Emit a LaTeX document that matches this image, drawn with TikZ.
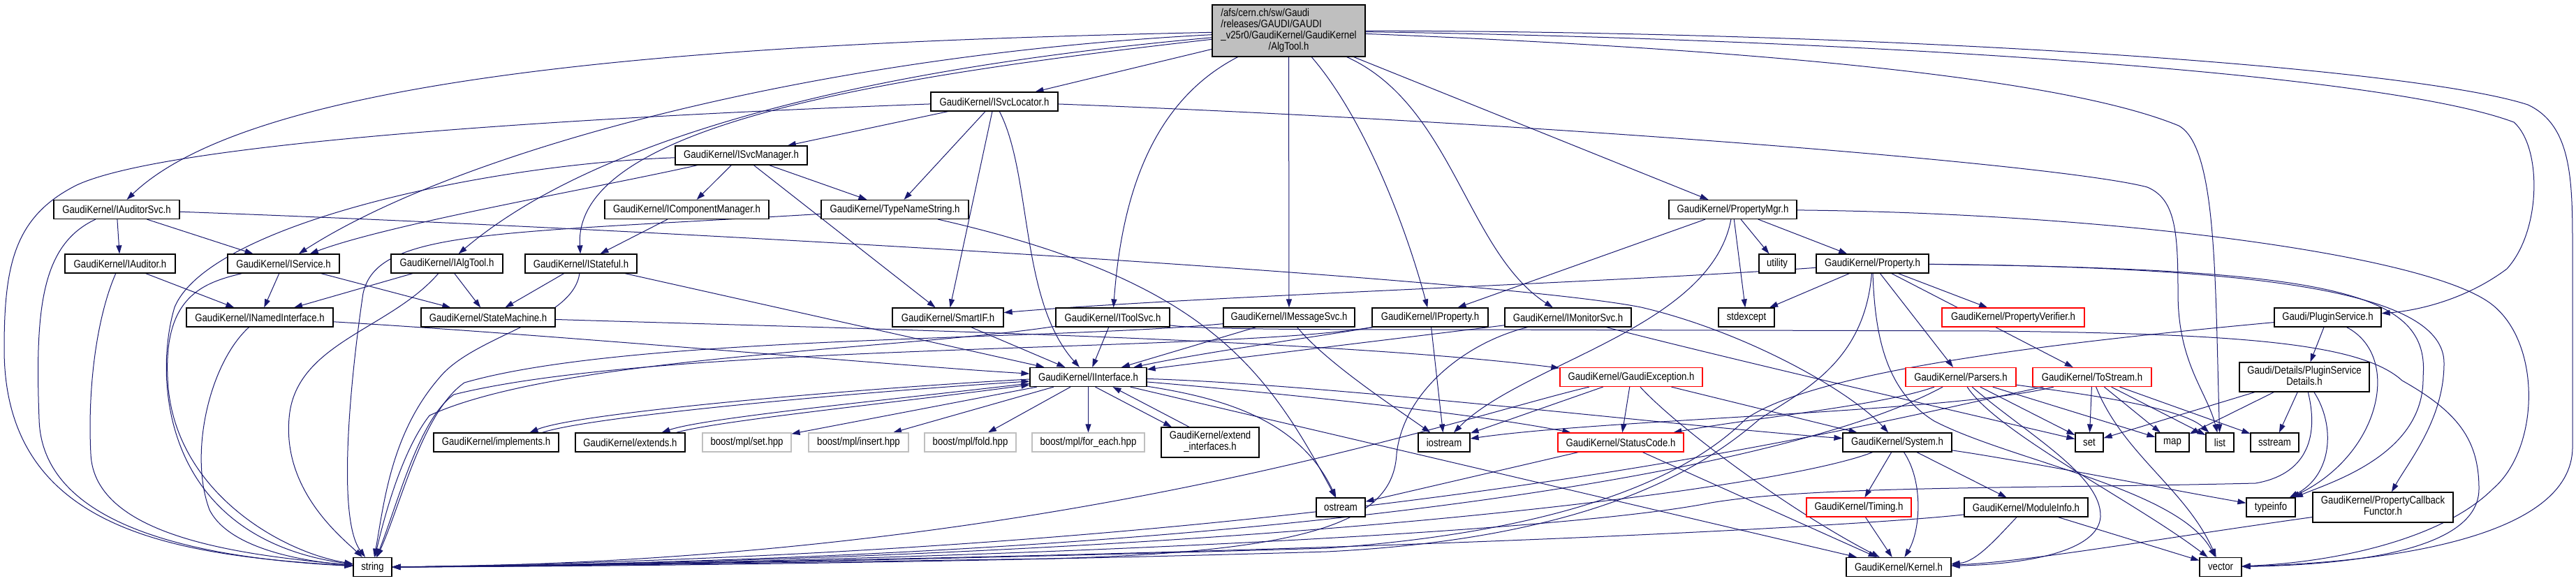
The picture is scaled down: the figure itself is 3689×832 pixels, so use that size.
\documentclass[tikz,border=0pt]{standalone}
\usepackage{fontspec}
\setmainfont{Liberation Sans}[FakeStretch=0.85]
\usetikzlibrary{arrows.meta}
\definecolor{edgeblue}{RGB}{25,25,112}
\definecolor{topgray}{RGB}{191,191,191}
\definecolor{boxgray}{RGB}{191,191,191}
\newcommand{\dxfont}{\fontsize{15.5}{16}\selectfont}
\pgfdeclarelayer{bg}
\pgfdeclarelayer{edges}
\pgfsetlayers{bg,edges,main}
\tikzset{
  dxbox/.style={draw=black, line width=1.2pt, fill=white, inner sep=0pt, minimum height=27pt, font=\dxfont, text=black},
  redbox/.style={dxbox, draw=red},
  greybox/.style={dxbox, draw=boxgray},
  edg/.style={draw=edgeblue, line width=1pt, -{Triangle[length=12pt,width=8pt]}},
}
\begin{document}
\begin{tikzpicture}[x=1pt,y=-1pt]
\begin{pgfonlayer}{bg}
\fill[white] (0,0) rectangle (3689,832);
\end{pgfonlayer}
\useasboundingbox (0,0) rectangle (3689,832);

% ---------------- nodes ----------------
\node[dxbox, fill=topgray, minimum width=219pt, minimum height=74pt] (top) at (1845.5,44) {\begin{tabular}{@{}l@{}}/afs/cern.ch/sw/Gaudi\\/releases/GAUDI/GAUDI\\\_v25r0/GaudiKernel/GaudiKernel\\\multicolumn{1}{@{}c@{}}{/AlgTool.h}\end{tabular}};
\node[dxbox, minimum width=182pt] (svcloc) at (1424,145.5) {GaudiKernel/ISvcLocator.h};
\node[dxbox, minimum width=189pt] (svcmgr) at (1061.5,222.5) {GaudiKernel/ISvcManager.h};
\node[dxbox, minimum width=180pt] (audsvc) at (167,300) {GaudiKernel/IAuditorSvc.h};
\node[dxbox, minimum width=235pt] (compmgr) at (983.5,300) {GaudiKernel/IComponentManager.h};
\node[dxbox, minimum width=211pt] (typename) at (1281.5,300) {GaudiKernel/TypeNameString.h};
\node[dxbox, minimum width=183pt] (propmgr) at (2481.5,300) {GaudiKernel/PropertyMgr.h};
\node[dxbox, minimum width=158pt] (auditor) at (172,377.5) {GaudiKernel/IAuditor.h};
\node[dxbox, minimum width=160pt] (iservice) at (406,377.5) {GaudiKernel/IService.h};
\node[dxbox, minimum width=160pt] (ialgtool) at (640,377.5) {GaudiKernel/IAlgTool.h};
\node[dxbox, minimum width=160pt] (istateful) at (832,377.5) {GaudiKernel/IStateful.h};
\node[dxbox, minimum width=52pt] (utility) at (2545,377.5) {utility};
\node[dxbox, minimum width=161pt] (property) at (2681.5,377.5) {GaudiKernel/Property.h};
\node[dxbox, minimum width=210pt] (named) at (372,454.5) {GaudiKernel/INamedInterface.h};
\node[dxbox, minimum width=192pt] (statemach) at (699,454.5) {GaudiKernel/StateMachine.h};
\node[dxbox, minimum width=159pt] (smartif) at (1357.5,454.5) {GaudiKernel/SmartIF.h};
\node[dxbox, minimum width=163pt] (toolsvc) at (1593.5,454.5) {GaudiKernel/IToolSvc.h};
\node[dxbox, minimum width=188pt] (msgsvc) at (1846,454.5) {GaudiKernel/IMessageSvc.h};
\node[dxbox, minimum width=166pt] (iprop) at (2048,454.5) {GaudiKernel/IProperty.h};
\node[dxbox, minimum width=181pt] (monsvc) at (2245.5,454.5) {GaudiKernel/IMonitorSvc.h};
\node[dxbox, minimum width=80pt] (stdexcept) at (2501,454.5) {stdexcept};
\node[redbox, minimum width=204pt] (propverif) at (2883,454.5) {GaudiKernel/PropertyVerifier.h};
\node[dxbox, minimum width=153pt] (plugin) at (3333.5,454.5) {Gaudi/PluginService.h};
\node[dxbox, minimum width=167pt] (iinterface) at (1558.5,540) {GaudiKernel/IInterface.h};
\node[redbox, minimum width=204pt] (gexc) at (2336,540) {GaudiKernel/GaudiException.h};
\node[redbox, minimum width=158pt] (parsers) at (2808,540) {GaudiKernel/Parsers.h};
\node[redbox, minimum width=170pt] (tostream) at (2996,540) {GaudiKernel/ToStream.h};
\node[dxbox, minimum width=186pt, minimum height=42pt] (pdetails) at (3300,540) {\begin{tabular}{@{}l@{}}Gaudi/Details/PluginService\\\multicolumn{1}{@{}c@{}}{Details.h}\end{tabular}};
\node[dxbox, minimum width=179pt] (implements) at (710.5,633.5) {GaudiKernel/implements.h};
\node[dxbox, minimum width=157pt] (extends) at (902.5,633.5) {GaudiKernel/extends.h};
\node[greybox, minimum width=127pt] (bset) at (1069.5,633.5) {boost/mpl/set.hpp};
\node[greybox, minimum width=143pt] (binsert) at (1229.5,633.5) {boost/mpl/insert.hpp};
\node[greybox, minimum width=131pt] (bfold) at (1389.5,633.5) {boost/mpl/fold.hpp};
\node[greybox, minimum width=161pt] (bforeach) at (1558.5,633.5) {boost/mpl/for\_each.hpp};
\node[dxbox, minimum width=140pt, minimum height=43pt] (extintf) at (1733,633.5) {\begin{tabular}{@{}l@{}}GaudiKernel/extend\\\multicolumn{1}{@{}c@{}}{\_interfaces.h}\end{tabular}};
\node[dxbox, minimum width=74pt] (iostream) at (2068,633.5) {iostream};
\node[redbox, minimum width=180pt] (statuscode) at (2321,633.5) {GaudiKernel/StatusCode.h};
\node[dxbox, minimum width=156pt] (system) at (2717,633.5) {GaudiKernel/System.h};
\node[dxbox, minimum width=40pt] (set) at (2992,633.5) {set};
\node[dxbox, minimum width=48pt] (map) at (3111,633.5) {map};
\node[dxbox, minimum width=40pt] (list) at (3179,633.5) {list};
\node[dxbox, minimum width=69pt] (sstream) at (3257.5,633.5) {sstream};
\node[dxbox, minimum width=70pt] (ostream) at (1920,726.5) {ostream};
\node[redbox, minimum width=150pt] (timing) at (2662,726.5) {GaudiKernel/Timing.h};
\node[dxbox, minimum width=177pt] (moduleinfo) at (2901.5,726.5) {GaudiKernel/ModuleInfo.h};
\node[dxbox, minimum width=70pt] (typeinfo) at (3252,726.5) {typeinfo};
\node[dxbox, minimum width=201pt, minimum height=43pt] (pcbf) at (3412.5,726.5) {\begin{tabular}{@{}l@{}}GaudiKernel/PropertyCallback\\\multicolumn{1}{@{}c@{}}{Functor.h}\end{tabular}};
\node[dxbox, minimum width=55pt] (string) at (533.5,812) {string};
\node[dxbox, minimum width=150pt] (kernel) at (2719,812) {GaudiKernel/Kernel.h};
\node[dxbox, minimum width=60pt] (vector) at (3180,812) {vector};

% ---------------- edges ----------------
\begin{pgfonlayer}{edges}
% AlgTool.h
\draw[edg] (top) .. controls (1100,60) and (380,95) .. (audsvc);
\draw[edg] (top) -- (svcloc);
\draw[edg] (top) .. controls (1150,80) and (650,220) .. (iservice);
\draw[edg] (top) .. controls (1220,100) and (850,200) .. (ialgtool);
\draw[edg] (top) .. controls (1260,110) and (820,180) .. (istateful);
\draw[edg] (top) .. controls (1640,150) and (1605,300) .. (toolsvc);
\draw[edg] (top) -- (msgsvc);
\draw[edg] (top) .. controls (1955,170) and (2015,330) .. (iprop);
\draw[edg] (top) .. controls (2080,150) and (2100,360) .. (monsvc);
\draw[edg] (top) -- (propmgr);
\draw[edg] (top) .. controls (2600,55) and (3400,100) .. (3600,175) .. controls (3640,210) and (3640,330) .. (3590,385) .. controls (3530,430) and (3460,445) .. (plugin);
\draw[edg] (top) .. controls (2500,70) and (2950,110) .. (3120,180) .. controls (3175,210) and (3172,400) .. (list);
\draw[edg] (top) .. controls (2700,45) and (3450,95) .. (3620,150) .. controls (3684,180) and (3684,260) .. (3684,360) -- (3684,640) .. controls (3684,770) and (3420,805) .. (vector);
% ISvcLocator
\draw[edg] (svcloc) -- (svcmgr);
\draw[edg] (svcloc) -- (typename);
\draw[edg] (svcloc) -- (smartif);
\draw[edg] (svcloc) .. controls (1478,250) and (1460,430) .. (iinterface);
\draw[edg] (svcloc) .. controls (900,165) and (250,200) .. (110,265) .. controls (20,310) and (6,380) .. (6,500) .. controls (6,760) and (250,795) .. (string);
\draw[edg] (svcloc) .. controls (2200,175) and (2950,235) .. (3075,268) .. controls (3115,285) and (3119,330) .. (3119,420) .. controls (3119,520) and (3160,560) .. (list);
% ISvcManager
\draw[edg] (svcmgr) -- (compmgr);
\draw[edg] (svcmgr) -- (typename);
\draw[edg] (svcmgr) -- (smartif);
\draw[edg] (svcmgr) .. controls (850,270) and (560,320) .. (iservice);
\draw[edg] (svcmgr) .. controls (700,235) and (300,320) .. (250,440) .. controls (220,540) and (230,770) .. (string);
% IComponentManager
\draw[edg] (compmgr) -- (istateful);
% TypeNameString
\draw[edg] (typename) .. controls (700,335) and (540,330) .. (520,420) .. controls (505,520) and (480,740) .. (string);
\draw[edg] (typename) .. controls (1720,400) and (1810,520) .. (ostream);
% IAuditorSvc
\draw[edg] (audsvc) -- (auditor);
\draw[edg] (audsvc) -- (iservice);
\draw[edg] (audsvc) .. controls (1000,330) and (2150,400) .. (2350,440) .. controls (2500,475) and (2650,560) .. (system);
\draw[edg] (audsvc) .. controls (60,350) and (50,440) .. (56,600) .. controls (60,760) and (300,800) .. (string);
% IAuditor
\draw[edg] (auditor) -- (named);
\draw[edg] (auditor) .. controls (140,450) and (125,550) .. (130,650) .. controls (135,770) and (350,795) .. (string);
% IService
\draw[edg] (iservice) -- (named);
\draw[edg] (iservice) -- (statemach);
\draw[edg] (iservice) .. controls (290,405) and (235,425) .. (240,540) .. controls (245,700) and (400,790) .. (string);
% IAlgTool
\draw[edg] (ialgtool) -- (named);
\draw[edg] (ialgtool) -- (statemach);
\draw[edg] (ialgtool) .. controls (560,470) and (430,490) .. (415,590) .. controls (400,700) and (490,770) .. (string);
% IStateful
\draw[edg] (istateful) -- (statemach);
\draw[edg] (istateful) -- (iinterface);
\draw[edg] (istateful) .. controls (820,460) and (680,480) .. (630,540) .. controls (560,620) and (550,720) .. (string);
% INamedInterface
\draw[edg] (named) .. controls (800,480) and (1300,525) .. (iinterface);
\draw[edg] (named) .. controls (300,520) and (270,650) .. (300,730) .. controls (330,790) and (450,805) .. (string);
% StateMachine
\draw[edg] (statemach) .. controls (1200,470) and (1900,485) .. (gexc);
% SmartIF
\draw[edg] (smartif) -- (iinterface);
% IToolSvc
\draw[edg] (toolsvc) -- (iinterface);
\draw[edg] (toolsvc) .. controls (1300,500) and (800,510) .. (615,595) .. controls (580,640) and (555,720) .. (string);
\draw[edg] (toolsvc) .. controls (1720,472) and (1900,472) .. (2100,472) -- (2850,474) .. controls (3200,478) and (3380,490) .. (3440,545) .. controls (3520,590) and (3550,630) .. (3550,700) .. controls (3550,780) and (3400,808) .. (vector);
% IMessageSvc
\draw[edg] (msgsvc) -- (iinterface);
\draw[edg] (msgsvc) .. controls (1900,520) and (2000,585) .. (iostream);
\draw[edg] (msgsvc) .. controls (1500,488) and (900,480) .. (665,548) .. controls (605,590) and (575,720) .. (string);
% IProperty
\draw[edg] (iprop) .. controls (1900,480) and (1720,505) .. (iinterface);
\draw[edg] (iprop) -- (iostream);
\draw[edg] (iprop) .. controls (1750,505) and (950,490) .. (650,565) .. controls (600,600) and (570,720) .. (string);
% IMonitorSvc
\draw[edg] (monsvc) .. controls (2000,485) and (1750,515) .. (iinterface);
\draw[edg] (monsvc) .. controls (2500,520) and (2850,600) .. (set);
\draw[edg] (monsvc) .. controls (2100,490) and (2010,560) .. (2000,650) .. controls (1995,740) and (1900,790) .. (1500,800) .. controls (1100,806) and (800,811) .. (string.east);
% PropertyMgr
\draw[edg] (propmgr) -- (iprop);
\draw[edg] (propmgr) .. controls (2450,470) and (2180,520) .. (iostream);
\draw[edg] (propmgr) -- (stdexcept);
\draw[edg] (propmgr) -- (utility);
\draw[edg] (propmgr) -- (property);
\draw[edg] (propmgr) .. controls (3000,305) and (3450,360) .. (3560,430) .. controls (3640,480) and (3640,640) .. (3570,700) .. controls (3500,770) and (3350,805) .. (vector);
% Property
\draw[edg] (property) .. controls (2300,405) and (1700,425) .. (smartif);
\draw[edg] (property) -- (stdexcept);
\draw[edg] (property) -- (propverif);
\draw[edg] (property) -- (parsers);
\draw[edg] (property) -- (tostream);
\draw[edg] (property) .. controls (3350,385) and (3480,420) .. (3470,540) .. controls (3472,650) and (3340,690) .. (typeinfo);
\draw[edg] (property) .. controls (3250,383) and (3500,420) .. (3500,520) .. controls (3500,600) and (3450,660) .. (pcbf);
\draw[edg] (property) .. controls (2685,480) and (2700,560) .. (2770,603) .. controls (2880,660) and (3120,700) .. (vector);
\draw[edg] (property) .. controls (2670,520) and (2580,560) .. (2520,600) .. controls (2450,660) and (2300,770) .. (1900,790) .. controls (1400,805) and (900,811) .. (string.east);
% IInterface
\draw[edg] ([yshift=-3pt]iinterface.west) .. controls (1250,555) and (830,590) .. ([xshift=48pt]implements.north);
\draw[edg] ([xshift=66pt]implements.north) .. controls (850,595) and (1250,560) .. ([yshift=-6pt]iinterface.west);
\draw[edg] ([yshift=-9pt]iinterface.west) .. controls (1280,572) and (1010,598) .. ([xshift=45pt]extends.north);
\draw[edg] ([xshift=66pt]extends.north) .. controls (1030,602) and (1290,576) .. ([yshift=-11pt]iinterface.west);
\draw[edg] (iinterface) -- (bset);
\draw[edg] (iinterface) -- (binsert);
\draw[edg] (iinterface) -- (bfold);
\draw[edg] (iinterface) -- (bforeach);
\draw[edg] ([xshift=10pt]iinterface.south) -- ([xshift=-55pt]extintf.north);
\draw[edg] ([xshift=-30pt]extintf.north) -- ([xshift=35pt]iinterface.south);
\draw[edg] (iinterface) -- (kernel);
\draw[edg] (iinterface) .. controls (1800,560) and (2100,590) .. (statuscode);
\draw[edg] (iinterface) .. controls (1900,550) and (2400,610) .. (system);
\draw[edg] (iinterface) .. controls (1750,570) and (1860,600) .. (ostream);
% GaudiException
\draw[edg] (gexc) -- (statuscode);
\draw[edg] (gexc) -- (system);
\draw[edg] (gexc) -- (iostream);
\draw[edg] (gexc) .. controls (2400,610) and (2560,730) .. (kernel);
\draw[edg] (gexc) .. controls (2080,600) and (1500,805) .. (string.east);
% StatusCode
\draw[edg] (statuscode) -- (ostream);
\draw[edg] (statuscode) -- (kernel);
% System
\draw[edg] (system) .. controls (2755,690) and (2750,760) .. (kernel);
\draw[edg] (system) -- (timing);
\draw[edg] (system) -- (moduleinfo);
\draw[edg] (system) .. controls (2900,660) and (3100,700) .. (typeinfo);
\draw[edg] (system) .. controls (2550,700) and (1800,800) .. (string.east);
% Timing
\draw[edg] (timing) -- (kernel);
% ModuleInfo
\draw[edg] (moduleinfo) .. controls (2860,770) and (2830,805) .. (kernel);
\draw[edg] (moduleinfo) -- (vector);
\draw[edg] (moduleinfo) .. controls (2700,750) and (2000,795) .. (string.east);
% Parsers
\draw[edg] (parsers) .. controls (2700,580) and (2500,600) .. (statuscode);
\draw[edg] (parsers) -- (set);
\draw[edg] (parsers) -- (map);
\draw[edg] (parsers) .. controls (2950,560) and (3120,580) .. (list);
\draw[edg] (parsers) .. controls (2860,620) and (3060,720) .. (vector);
\draw[edg] (parsers) .. controls (2900,620) and (3010,680) .. (3008,740) .. controls (3005,790) and (2900,808) .. (kernel);
\draw[edg] (parsers) .. controls (2550,680) and (1800,800) .. (string.east);
% ToStream
\draw[edg] (tostream) -- (set);
\draw[edg] (tostream) -- (map);
\draw[edg] (tostream) -- (list);
\draw[edg] (tostream) -- (sstream);
\draw[edg] (tostream) .. controls (3040,650) and (3130,700) .. (vector);
\draw[edg] (tostream) .. controls (2800,590) and (2300,600) .. (iostream);
\draw[edg] (tostream) .. controls (2700,600) and (2000,790) .. (string.east);
% PluginService
\draw[edg] (plugin) -- (pdetails);
\draw[edg] (plugin) .. controls (3440,510) and (3410,650) .. (typeinfo);
\draw[edg] (plugin) .. controls (2950,490) and (2600,530) .. (2500,600) .. controls (2420,680) and (2250,760) .. (1900,785) .. controls (1400,800) and (900,810) .. (string.east);
% PluginServiceDetails
\draw[edg] (pdetails) -- (set);
\draw[edg] (pdetails) -- (map);
\draw[edg] (pdetails) -- (sstream);
\draw[edg] (pdetails) .. controls (3345,610) and (3340,680) .. (typeinfo);
\draw[edg] (pdetails) .. controls (3322,630) and (3300,680) .. (3230,692) .. controls (2900,700) and (2600,695) .. (2450,720) .. controls (2200,770) and (1200,808) .. (string.east);
% PropertyCallbackFunctor
\draw[edg] (pcbf) .. controls (3100,770) and (2900,805) .. (kernel);
\end{pgfonlayer}
\end{tikzpicture}
\end{document}
